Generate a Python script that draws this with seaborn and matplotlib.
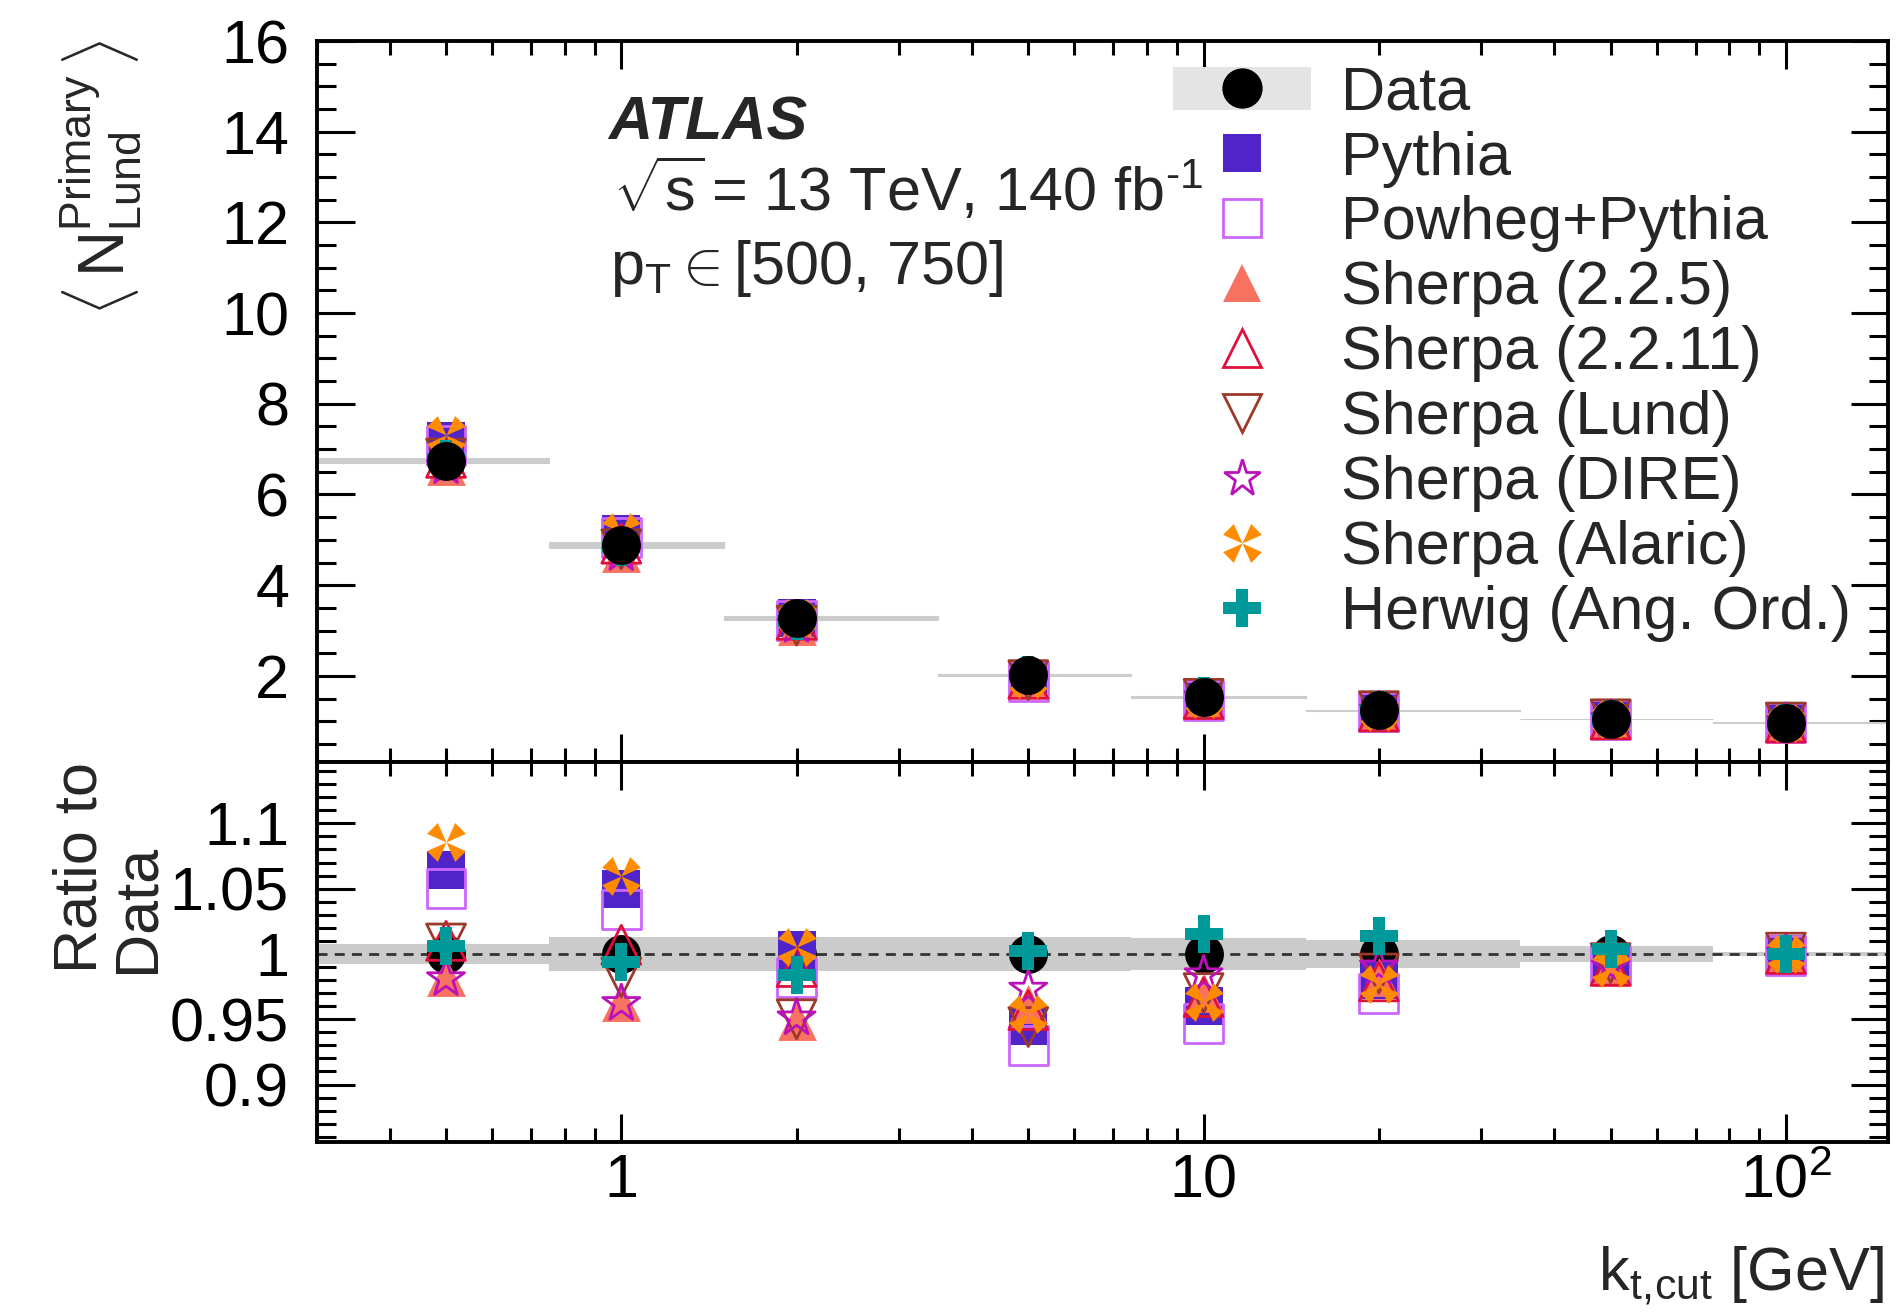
import numpy as np
import matplotlib
matplotlib.use("Agg")
import matplotlib.pyplot as plt
import seaborn as sns
from matplotlib.path import Path
from matplotlib.patches import Patch
from matplotlib.lines import Line2D
from matplotlib import ticker

# values
kt_cut = [0.5, 1, 2, 5, 10, 20, 50, 100]
bin_edges = [0.25, 0.75, 1.5, 3.5, 7.5, 15, 35, 75, 150]
data_mean = [6.74, 4.88, 3.27, 2.02, 1.54, 1.24, 1.05, 0.97]
data_rel_err = [0.008, 0.013, 0.013, 0.013, 0.0125, 0.011, 0.006, 0.0015]

ratio_pythia = [1.064, 1.050, 1.003, 0.945, 0.960, 0.980, 0.992, 1.000]
ratio_powheg = [1.050, 1.034, 0.982, 0.930, 0.947, 0.970, 0.991, 0.999]
ratio_sh225 = [0.982, 0.963, 0.949, 0.962, 0.970, 0.982, 0.990, 1.000]
ratio_sh2211 = [1.010, 1.007, 0.990, 0.957, 0.967, 0.979, 0.991, 1.000]
ratio_lund = [1.008, 0.982, 0.950, 0.944, 0.970, 0.985, 0.993, 1.001]
ratio_dire = [0.981, 0.962, 0.951, 0.973, 0.984, 0.990, 0.990, 1.000]
ratio_alaric = [1.086, 1.060, 1.005, 0.954, 0.963, 0.977, 0.989, 1.000]
ratio_herwig = [1.006, 0.994, 0.984, 1.002, 1.015, 1.014, 1.004, 1.000]

x_ticks = [1, 10, 100]
x_tick_labels = ["1", "10", r"$\mathregular{10^{2}}$"]
ratio_ticks = [0.9, 0.95, 1, 1.05, 1.1]
ratio_tick_labels = ["0.9", "0.95", "1", "1.05", "1.1"]

sns.set_theme(style="ticks")
plt.rcParams["font.family"] = ["Liberation Sans", "DejaVu Sans"]
plt.rcParams["mathtext.fontset"] = "custom"
plt.rcParams["mathtext.rm"] = "Liberation Sans"
plt.rcParams["mathtext.it"] = "Liberation Sans:italic"
plt.rcParams["mathtext.bf"] = "Liberation Sans:bold"
plt.rcParams["axes.linewidth"] = 2.8

FS = 44
MS = 28

# Alaric marker: four wedges meeting in the centre
verts, codes = [], []
for th in [45, 135, 225, 315]:
    a1 = np.radians(th - 21)
    a2 = np.radians(th + 21)
    verts += [(0, 0), (np.cos(a1), np.sin(a1)), (np.cos(a2), np.sin(a2)), (0, 0)]
    codes += [Path.MOVETO, Path.LINETO, Path.LINETO, Path.CLOSEPOLY]
alaric_marker = Path(verts, codes)

models = [
    ("Pythia", ratio_pythia, "s", "#5124c9", True),
    ("Powheg+Pythia", ratio_powheg, "s", "#cc66ff", False),
    ("Sherpa (2.2.5)", ratio_sh225, "^", "#f87262", True),
    ("Sherpa (2.2.11)", ratio_sh2211, "^", "#e0103c", False),
    ("Sherpa (Lund)", ratio_lund, "v", "#9c3a2a", False),
    ("Sherpa (DIRE)", ratio_dire, "*", "#bb11bb", False),
    ("Sherpa (Alaric)", ratio_alaric, alaric_marker, "#ff8c00", True),
    ("Herwig (Ang. Ord.)", ratio_herwig, "P", "#009999", True),
]

fig = plt.figure(figsize=(18.96, 13.12), dpi=100)
ax1 = fig.add_axes([0.1671, 0.4192, 0.8289, 0.5495])
ax2 = fig.add_axes([0.1671, 0.1296, 0.8289, 0.2896])

data = np.array(data_mean)
err = np.array(data_rel_err)

# data uncertainty per bin
for i in range(len(kt_cut)):
    lo, hi = bin_edges[i], bin_edges[i + 1]
    ax1.fill_between([lo, hi], data[i] * (1 - err[i]), data[i] * (1 + err[i]),
                     color="#cccccc", lw=0.8, zorder=1)
    ax2.fill_between([lo, hi], 1 - err[i], 1 + err[i],
                     color="#cbcbcb", lw=0, zorder=1)

ax2.axhline(1, color="#333333", lw=2, ls=(0, (3.6, 2.6)), zorder=2)

# data points
sns.scatterplot(x=kt_cut, y=data, ax=ax1, marker="o", s=MS**2, color="black",
                edgecolor="black", linewidth=0, zorder=20, legend=False)
sns.scatterplot(x=kt_cut, y=np.ones(len(kt_cut)), ax=ax2, marker="o", s=MS**2,
                color="black", edgecolor="black", linewidth=0, zorder=3, legend=False)

handles = [(Patch(facecolor="#e4e4e4", edgecolor="none"),
            Line2D([], [], marker="o", ms=MS, color="black", ls="none"))]
labels = ["Data"]

for k, (name, ratio, mk, col, filled) in enumerate(models):
    ratio = np.array(ratio)
    lw = 0 if filled else 2
    for ax, yv in [(ax1, ratio * data), (ax2, ratio)]:
        sns.scatterplot(x=kt_cut, y=yv, ax=ax, marker=mk, s=MS**2, color=col,
                        edgecolor=col, linewidth=lw, zorder=5 + k, legend=False)
        if not filled:
            ax.collections[-1].set_facecolor("none")
            ax.collections[-1].set_edgecolor(col)
    handles.append(Line2D([], [], marker=mk, ms=MS, ls="none", color=col,
                          markerfacecolor=col if filled else "none",
                          markeredgecolor=col, markeredgewidth=lw))
    labels.append(name)

for ax in (ax1, ax2):
    ax.set_xscale("log")
    ax.set_xlim(0.3, 150)
    ax.xaxis.set_major_locator(ticker.FixedLocator(x_ticks))
    ax.xaxis.set_minor_locator(ticker.LogLocator(subs=np.arange(2, 10)))
    ax.tick_params(which="both", direction="in", top=True, right=True,
                   width=2.2, labelsize=FS, colors="black")
    ax.tick_params(axis="y", which="major", length=27, pad=20)
    ax.tick_params(axis="y", which="minor", length=14)
    ax.tick_params(axis="x", which="major", length=20, pad=8)
    ax.tick_params(axis="x", which="minor", length=10)
    ax.set_xlabel("")
    ax.set_ylabel("")
    for s in ax.spines.values():
        s.set_color("black")

ax1.set_ylim(0.1, 16)
ax1.yaxis.set_major_locator(ticker.MultipleLocator(2))
ax1.yaxis.set_minor_locator(ticker.MultipleLocator(0.5))
ax1.yaxis.set_major_formatter(ticker.FormatStrFormatter("%d"))
ax1.tick_params(axis="x", labelbottom=False)

ax2.set_ylim(0.856, 1.147)
ax2.yaxis.set_major_locator(ticker.FixedLocator(ratio_ticks))
ax2.yaxis.set_major_formatter(ticker.FixedFormatter(ratio_tick_labels))
ax2.yaxis.set_minor_locator(ticker.MultipleLocator(0.01))
ax2.xaxis.set_major_formatter(ticker.FixedFormatter(x_tick_labels))

ax1.legend(handles, labels, loc="upper left", bbox_to_anchor=(0.6187, 0.9500),
           bbox_transform=fig.transFigure, frameon=False, fontsize=FS,
           borderpad=0, borderaxespad=0, handlelength=2.25, handletextpad=0.5,
           labelspacing=0.13, numpoints=1)

fig.text(0.321, 0.8933, "ATLAS", fontsize=FS, weight="bold", style="italic", va="baseline")
fig.text(0.3235, 0.8394, r"$\sqrt{\mathregular{s}}\!$ = 13 TeV, 140 fb$^{\text{-1}}$",
         fontsize=FS, va="baseline")
fig.text(0.3215, 0.7835, r"p$_{\mathregular{T}}\in\!\!$ [500, 750]", fontsize=FS,
         va="baseline")

fig.text(0.053, 0.97, r"$\langle\,\mathregular{N^{Primary}_{Lund}}\,\rangle$",
         fontsize=46, rotation=90, ha="center", va="top")
fig.text(0.058, 0.4192, "Ratio to\nData", fontsize=FS, rotation=90, ha="center",
         va="top", multialignment="left", linespacing=1.0)
fig.text(0.9937, 0.016, r"k$_{\mathregular{t,\!cut}}$ [GeV]", fontsize=FS,
         ha="right", va="baseline")

fig.savefig("out.png", dpi=100)
